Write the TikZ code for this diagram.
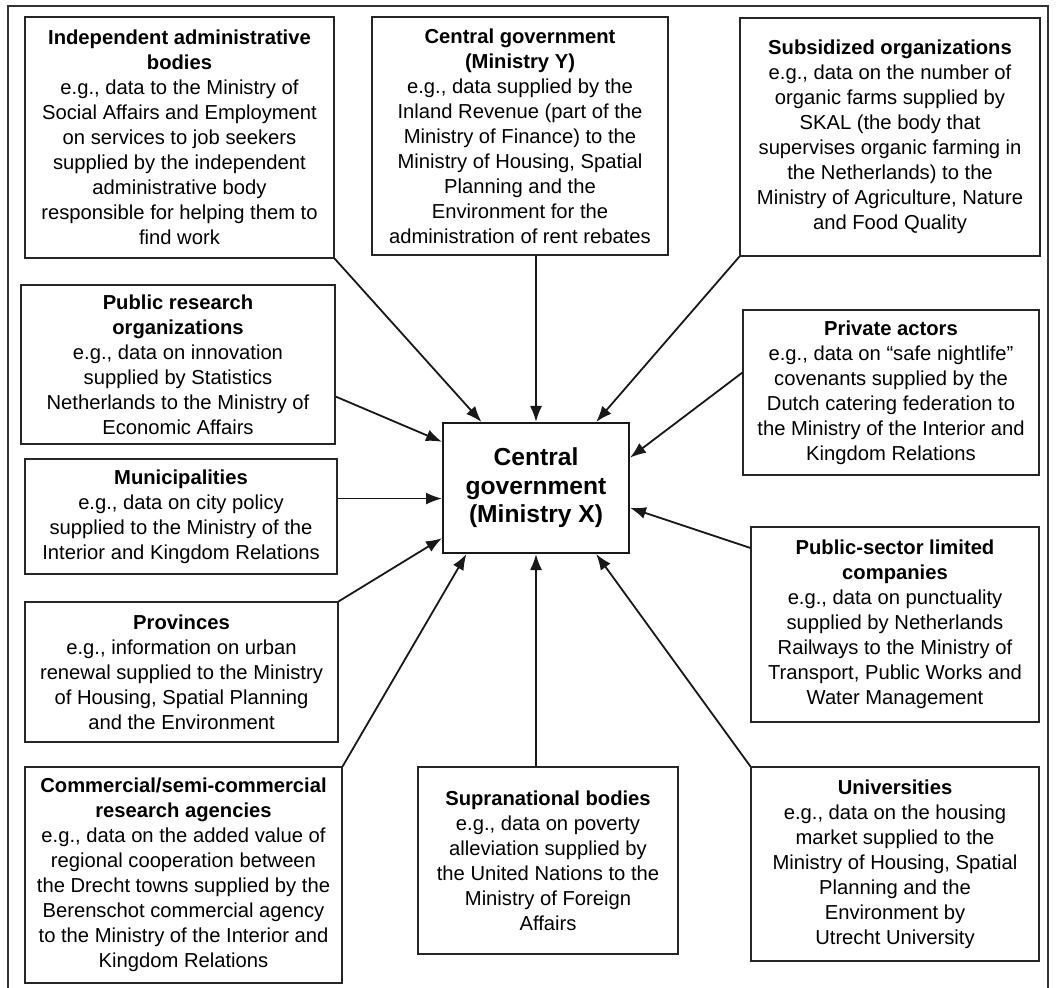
\documentclass[tikz,border=0pt]{standalone}
\usepackage{fontspec}
\setmainfont{Liberation Sans}
\usetikzlibrary{arrows.meta,calc,positioning}

\begin{document}
\begin{tikzpicture}[x=0.5pt, y=-0.5pt, >={Latex[length=8pt,width=6pt]}, font=\fontsize{10.1}{12.5}\selectfont]

\useasboundingbox (0,0) rectangle (1059,988);

% Frame
\draw[line width=0.8pt, black!80] (8,1010) -- (8,6) -- (1048,6) -- (1048,1010);

\tikzset{
    orgbox/.style={draw=black!85, line width=0.6pt, align=center, inner sep=2pt},
    centrebox/.style={draw=black!90, line width=1pt, align=center, inner sep=2pt,
        font=\fontsize{12.3}{14.2}\selectfont\bfseries},
    flow/.style={->, line width=0.9pt, black!90}
}

% Central government (Ministry X)
\node[centrebox, minimum width=93pt, minimum height=65pt] (mx) at (536,488)
    {Central\\government\\(Ministry X)};

% Top row
\node[orgbox, minimum width=154.5pt, minimum height=120.5pt] (indep) at (179.5,137.5)
    {\textbf{Independent administrative}\\\textbf{bodies}\\e.g., data to the Ministry of\\Social Affairs and Employment\\on services to job seekers\\supplied by the independent\\administrative body\\responsible for helping them to\\find work};
\node[orgbox, minimum width=148pt, minimum height=119pt] (centy) at (520,136)
    {\textbf{Central government}\\\textbf{(Ministry Y)}\\e.g., data supplied by the\\Inland Revenue (part of the\\Ministry of Finance) to the\\Ministry of Housing, Spatial\\Planning and the\\Environment for the\\administration of rent rebates};
\node[orgbox, minimum width=150pt, minimum height=119pt] (subs) at (890,137)
    {\textbf{Subsidized organizations}\\e.g., data on the number of\\organic farms supplied by\\SKAL (the body that\\supervises organic farming in\\the Netherlands) to the\\Ministry of Agriculture, Nature\\and Food Quality};

% Left column
\node[orgbox, minimum width=157pt, minimum height=79.5pt] (pubres) at (178,364.5)
    {\textbf{Public research}\\\textbf{organizations}\\e.g., data on innovation\\supplied by Statistics\\Netherlands to the Ministry of\\Economic Affairs};
\node[orgbox, minimum width=156pt, minimum height=57.5pt] (munic) at (181,516.5)
    {\textbf{Municipalities}\\e.g., data on city policy\\supplied to the Ministry of the\\Interior and Kingdom Relations};
\node[orgbox, minimum width=156.5pt, minimum height=70pt] (prov) at (181.5,672)
    {\textbf{Provinces}\\e.g., information on urban\\renewal supplied to the Ministry\\of Housing, Spatial Planning\\and the Environment};
\node[orgbox, minimum width=158.5pt, minimum height=108pt] (comm) at (183.5,875)
    {\textbf{Commercial/semi-commercial}\\\textbf{research agencies}\\e.g., data on the added value of\\regional cooperation between\\the Drecht towns supplied by the\\Berenschot commercial agency\\to the Ministry of the Interior and\\Kingdom Relations};

% Bottom middle
\node[orgbox, minimum width=130pt, minimum height=93.5pt] (supra) at (548,860.5)
    {\textbf{Supranational bodies}\\e.g., data on poverty\\alleviation supplied by\\the United Nations to the\\Ministry of Foreign\\Affairs};

% Right column
\node[orgbox, minimum width=148pt, minimum height=82.5pt] (priv) at (891,392.5)
    {\textbf{Private actors}\\e.g., data on “safe nightlife”\\covenants supplied by the\\Dutch catering federation to\\the Ministry of the Interior and\\Kingdom Relations};
\node[orgbox, minimum width=144pt, minimum height=97.5pt] (pslc) at (895,624.5)
    {\textbf{Public-sector limited}\\\textbf{companies}\\e.g., data on punctuality\\supplied by Netherlands\\Railways to the Ministry of\\Transport, Public Works and\\Water Management};
\node[orgbox, minimum width=144pt, minimum height=97pt] (univ) at (895,864)
    {\textbf{Universities}\\e.g., data on the housing\\market supplied to the\\Ministry of Housing, Spatial\\Planning and the\\Environment by\\Utrecht University};

% Arrows into Ministry X
\coordinate (mW) at ($(mx.north west)!0.58!(mx.south west)$);
\draw[flow] (indep.south east) -- ($(mx.north west)!0.21!(mx.north east)$);
\draw[flow] (centy.south -| mx.north) -- (mx.north);
\draw[flow] (subs.south west) -- ($(mx.north west)!0.82!(mx.north east)$);
\draw[flow] ($(priv.north west)!0.38!(priv.south west)$) -- ($(mx.north east)!0.27!(mx.south east)$);
\draw[flow] ($(pslc.north west)!0.11!(pslc.south west)$) -- ($(mx.north east)!0.65!(mx.south east)$);
\draw[flow] (univ.north west) -- ($(mx.south west)!0.82!(mx.south east)$);
\draw[flow] (supra.north -| mx.south) -- (mx.south);
\draw[flow] (comm.north east) -- ($(mx.south west)!0.13!(mx.south east)$);
\draw[flow] (prov.north east) -- ($(mx.north west)!0.88!(mx.south west)$);
\draw[flow] (munic.east |- mW) -- (mW);
\draw[flow] ($(pubres.north east)!0.70!(pubres.south east)$) -- ($(mx.north west)!0.15!(mx.south west)$);

\end{tikzpicture}
\end{document}
